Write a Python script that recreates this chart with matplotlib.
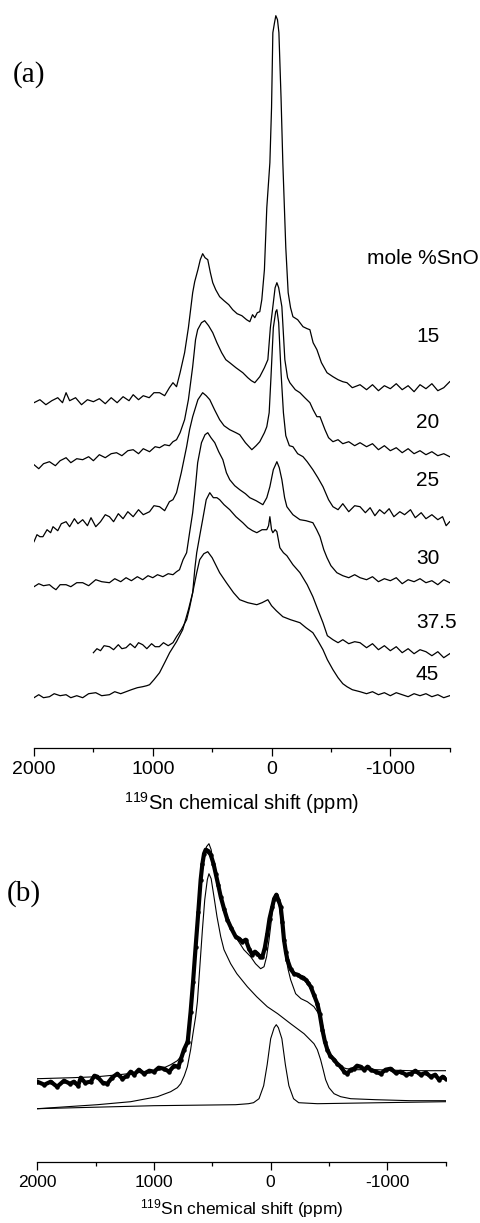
import matplotlib
matplotlib.use("Agg")
import matplotlib.pyplot as plt
from matplotlib.ticker import FixedLocator

plt.rcParams['font.family'] = ['Liberation Sans', 'DejaVu Sans']
plt.rcParams['axes.unicode_minus'] = False

# ---------------- Panel (a): 119Sn spectra, stacked (intensity, arb. units incl. offset) -------------
ppm_15 = [2000,1950,1900,1850,1800,1760,1730,1700,1650,1600,1550,1500,1450,1400,1350,1300,1250,1200,1165,1120,
          1080,1030,990,943,900,860,830,800,770,732,700,664,647,620,600,580,560,537,515,495,470,437,400,360,327,
          290,250,210,183,160,141,120,99,82,60,40,14,0,-11,-25,-36,-50,-62,-80,-95,-120,-140,-160,-180,-220,-265,
          -300,-323,-350,-382,-420,-467,-517,-560,-600,-635,-680,-745,-800,-850,-900,-950,-1000,-1050,-1100,-1150,
          -1200,-1250,-1300,-1350,-1400,-1450,-1500]
int_15 = [345,348,343,347,350,345,355,347,350,343,348,346,349,344,350,345,351,347,353,348,352,350,355,355,352,
          360,365,361,375,395,420,455,466,478,488,494,490,488,475,465,458,451,447,443,438,434,432,428,426,433,430,
          435,436,448,478,540,585,640,715,725,732,728,715,650,585,500,455,440,431,428,421,419,418,405,398,385,375,
          371,368,366,365,360,363,358,363,357,362,359,364,358,362,356,363,359,364,357,360,366]

ppm_20 = [2000,1960,1920,1870,1820,1780,1730,1690,1640,1590,1540,1500,1450,1400,1350,1305,1260,1210,1165,1120,
          1080,1027,980,943,900,860,830,800,770,732,700,664,640,622,590,563,530,495,460,420,385,352,300,242,200,
          170,141,120,99,60,31,10,-11,-30,-45,-60,-87,-112,-135,-154,-200,-239,-280,-323,-350,-382,-408,-450,-480,
          -517,-560,-600,-650,-700,-745,-800,-850,-900,-950,-1000,-1050,-1100,-1150,-1200,-1250,-1300,-1350,-1400,
          -1450,-1500]
int_20 = [283,279,284,286,282,287,290,285,289,288,291,287,293,290,294,295,292,297,298,294,299,296,301,300,303,
          302,306,308,315,328,348,381,408,418,425,427,422,415,405,395,388,385,380,375,370,367,365,368,371,380,388,
          420,441,460,465,460,441,388,370,365,358,355,350,345,338,331,331,318,310,306,308,304,306,302,305,301,304,
          298,302,297,300,295,299,294,297,293,296,292,294,291]

ppm_25 = [2000,1975,1950,1925,1890,1860,1840,1800,1770,1730,1700,1660,1630,1590,1550,1520,1480,1440,1400,1365,
          1330,1290,1250,1210,1165,1120,1080,1027,990,943,900,860,830,800,760,715,690,664,620,580,550,520,480,437,
          400,352,300,268,220,166,130,99,60,40,20,5,-15,-35,-45,-60,-80,-100,-120,-150,-180,-220,-265,-300,-348,
          -390,-433,-480,-517,-560,-600,-650,-700,-745,-790,-830,-870,-910,-950,-990,-1030,-1080,-1120,-1170,-1210,
          -1260,-1300,-1350,-1400,-1440,-1470,-1500]
int_25 = [206,213,211,211,218,215,221,217,224,226,221,229,224,228,222,230,221,226,233,231,226,234,229,236,231,
          238,233,236,242,241,237,246,248,255,275,301,318,331,348,355,352,348,338,328,322,318,315,313,305,298,302,
          306,315,321,335,370,420,436,438,425,375,335,312,302,301,294,291,286,278,270,261,248,241,238,244,236,242,
          241,235,240,232,238,234,239,231,236,233,238,230,235,229,233,228,231,222,226]

ppm_30 = [2000,1960,1920,1870,1840,1815,1780,1730,1690,1640,1590,1540,1480,1430,1365,1320,1270,1225,1180,1130,
          1085,1040,1000,960,915,870,830,800,775,745,715,690,664,640,622,590,560,537,510,478,445,410,380,352,310,
          268,220,183,130,73,40,14,-15,-45,-65,-87,-110,-129,-180,-239,-290,-348,-380,-408,-440,-467,-500,-550,-600,
          -650,-700,-745,-800,-850,-900,-950,-1000,-1050,-1100,-1150,-1200,-1250,-1300,-1350,-1400,-1450,-1500]
int_30 = [161,164,162,163,160,158,163,163,161,165,165,162,168,166,165,169,166,170,167,171,168,172,170,173,171,
          174,173,176,178,188,195,215,235,262,285,305,313,315,310,305,296,288,275,268,262,258,254,250,247,243,250,
          261,278,286,280,268,250,241,233,228,227,225,218,211,198,190,182,175,172,170,173,170,168,171,166,169,167,
          170,164,168,166,169,165,167,163,168,165]

ppm_375 = [1500,1470,1440,1410,1365,1330,1290,1260,1225,1190,1150,1120,1085,1050,1010,980,945,910,870,830,800,
           760,715,690,664,645,630,600,580,550,520,490,460,437,400,352,300,242,200,160,124,80,40,25,14,0,-11,-30,
           -45,-70,-100,-129,-180,-239,-300,-348,-390,-433,-470,-517,-560,-600,-650,-700,-745,-800,-850,-900,-950,
           -1000,-1050,-1100,-1150,-1200,-1250,-1300,-1350,-1400,-1450,-1500]
int_375 = [95,99,97,102,101,98,103,99,100,104,100,105,103,99,104,101,101,105,102,105,111,118,128,140,155,180,195,
           215,228,248,255,250,250,248,243,238,231,225,220,217,215,218,218,222,231,218,215,218,216,200,195,192,183,
           175,163,151,138,125,112,108,105,108,104,106,105,100,104,98,102,97,101,95,99,94,98,96,92,96,90,94]

ppm_45 = [2000,1960,1920,1870,1830,1780,1730,1690,1640,1590,1540,1480,1430,1365,1320,1270,1225,1180,1130,1085,
          1050,1027,990,943,900,858,800,748,700,664,630,605,570,537,500,437,380,320,268,200,124,80,31,0,-40,-95,
          -160,-239,-290,-348,-390,-433,-470,-517,-560,-600,-635,-680,-745,-800,-850,-900,-950,-1000,-1050,-1100,
          -1150,-1200,-1250,-1300,-1350,-1400,-1450,-1500]
int_45 = [50,53,50,51,54,52,53,50,52,50,54,55,52,53,56,54,56,58,60,61,62,63,68,75,85,95,106,118,138,155,175,188,
          194,196,190,175,165,155,148,145,143,145,148,142,137,131,128,125,120,115,107,98,88,78,70,64,61,58,56,54,
          56,53,55,52,55,53,51,54,52,54,51,53,50,52]

conc_labels = ['15', '20', '25', '30', '37.5', '45']

# ---------------- Panel (b): experimental data, total fit, two components -------------
ppm_b_data = [2000,1940,1885,1830,1771,1720,1686,1650,1628,1590,1542,1510,1485,1440,1400,1360,1314,1270,1228,1200,
              1171,1130,1086,1040,1000,960,914,870,828,790,771,743,711,686,665,643,620,600,585,571,557,540,514,490,
              471,450,428,400,371,340,300,270,243,214,186,157,135,114,90,71,50,29,10,-14,-30,-49,-65,-86,-100,-114,
              -130,-143,-170,-200,-230,-257,-280,-300,-320,-343,-370,-400,-420,-443,-465,-486,-510,-543,-570,-600,
              -630,-657,-685,-714,-740,-771,-800,-830,-857,-900,-943,-985,-1028,-1070,-1114,-1160,-1200,-1240,-1285,
              -1330,-1371,-1410,-1442,-1475,-1500]
int_b_data = [80,77,80,75,81,78,80,76,84,79,80,86,85,79,78,84,88,83,86,90,87,92,88,91,90,94,93,90,96,95,102,112,
              120,150,180,215,250,282,298,308,312,311,307,298,288,277,265,253,242,234,225,223,220,222,213,207,210,
              208,205,205,214,228,243,255,263,267,262,255,240,222,210,202,193,188,187,185,184,182,179,175,167,158,
              148,132,120,112,106,102,98,95,90,88,92,93,96,95,92,95,92,90,88,92,93,89,90,87,88,91,87,89,85,87,82,85,83]

ppm_b_fit = [2000,1700,1485,1300,1057,950,857,800,771,745,728,700,670,650,628,600,571,550,529,510,486,450,400,350,
             285,230,171,130,86,57,35,14,-15,-43,-65,-86,-105,-129,-150,-171,-214,-260,-314,-371,-400,-425,-443,
             -460,-471,-490,-514,-550,-600,-650,-743,-900,-1200,-1500]
int_b_fit = [83,84,85,87,90,92,97,101,105,110,118,132,170,205,248,280,305,315,318,312,295,275,255,238,222,212,205,
             198,193,195,205,222,250,267,262,245,225,205,192,182,168,163,160,155,150,145,138,128,118,110,105,99,95,
             93,92,92,91,91]

ppm_b_c1 = [2000,1485,1200,971,857,800,771,740,714,686,666,643,628,610,585,565,543,529,510,486,460,428,400,343,290,
            200,120,29,-60,-171,-286,-371,-400,-428,-450,-471,-500,-543,-600,-686,-900,-1200,-1500]
int_b_c1 = [53,57,60,65,70,74,78,86,95,112,128,145,160,190,232,262,282,288,283,265,245,225,212,198,188,175,165,155,
            148,138,128,118,112,102,92,82,74,68,65,63,62,61,61]

ppm_b_c2 = [2000,1000,300,190,147,100,60,30,0,-30,-48,-66,-96,-126,-156,-196,-240,-400,-1500]
int_b_c2 = [53,56,57,58,59,63,76,97,123,134,137,134,123,97,76,63,59,58,60]

W, H = 481, 1223
fig = plt.figure(figsize=(W / 100, H / 100), dpi=100)


def frac(x, y):
    return x / W, 1 - y / H


def style_axis(ax, size):
    for s in ('left', 'right', 'top'):
        ax.spines[s].set_visible(False)
    ax.spines['bottom'].set_linewidth(0.9)
    ax.set_yticks([])
    ax.set_xlim(2000, -1500)
    ax.xaxis.set_major_locator(FixedLocator([2000, 1000, 0, -1000]))
    ax.xaxis.set_minor_locator(FixedLocator([1500, 500, -500, -1500]))
    ax.set_xticklabels(['2000', '1000', '0', '-1000'])
    ax.tick_params(axis='x', which='major', direction='out', length=5.5, width=0.9, labelsize=size, pad=4)
    ax.tick_params(axis='x', which='minor', direction='out', length=3, width=0.9)
    ax.patch.set_alpha(0)


# panel (a)
axa = fig.add_axes([34 / W, 1 - 747.7 / H, (449.7 - 34) / W, (747.7 - 10) / H])
style_axis(axa, 14)
axa.set_ylim(0, 737.7)
for xs, ys in [(ppm_15, int_15), (ppm_20, int_20), (ppm_25, int_25),
               (ppm_30, int_30), (ppm_375, int_375), (ppm_45, int_45)]:
    assert len(xs) == len(ys)
    axa.plot(xs, ys, color='black', lw=0.9)
axa.set_xlabel('$\\mathregular{^{119}}$Sn chemical shift (ppm)', fontsize=14.5, labelpad=9)

# panel (b)
axb = fig.add_axes([37.3 / W, 1 - 1161.7 / H, (445.7 - 37.3) / W, (1161.7 - 820) / H])
style_axis(axb, 12.5)
axb.set_ylim(0, 341.7)
for xs, ys in [(ppm_b_data, int_b_data), (ppm_b_fit, int_b_fit), (ppm_b_c1, int_b_c1), (ppm_b_c2, int_b_c2)]:
    assert len(xs) == len(ys)
axb.plot(ppm_b_data, int_b_data, color='black', lw=3.0, marker='o', ms=2.2, solid_joinstyle='round')
axb.plot(ppm_b_fit, int_b_fit, color='black', lw=0.8)
axb.plot(ppm_b_c1, int_b_c1, color='black', lw=0.8)
axb.plot(ppm_b_c2, int_b_c2, color='black', lw=0.8)
axb.set_xlabel('$\\mathregular{^{119}}$Sn chemical shift (ppm)', fontsize=12.5, labelpad=5)

# labels
fig.text(*frac(13, 75), '(a)', fontsize=21, family='Liberation Serif', ha='left', va='center')
fig.text(*frac(7, 894), '(b)', fontsize=21, family='Liberation Serif', ha='left', va='center')
fig.text(*frac(367, 259), 'mole %SnO', fontsize=15, ha='left', va='center')
label_y = [337, 423, 480, 558, 622, 675]
for lab, yy in zip(conc_labels, label_y):
    fig.text(*frac(416, yy), lab, fontsize=15, ha='left', va='center')

fig.savefig('out.png', dpi=100, facecolor='white')
